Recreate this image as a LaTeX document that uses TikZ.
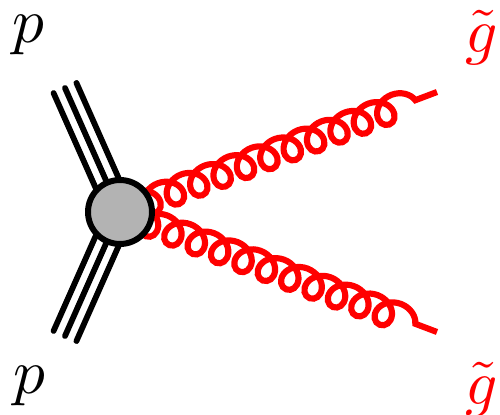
\documentclass[tikz,border=0pt]{standalone}
\usetikzlibrary{decorations.pathmorphing,calc}
\begin{document}
\begin{tikzpicture}[x=0.02cm,y=-0.02cm,
  fermion/.style={line width=3.3pt, line cap=round},
  gluonline/.style={red, line width=3.5pt, decorate,
    decoration={coil, amplitude=0.27cm, segment length=0.5cm, aspect=1.05}},
  blob/.style={circle, draw=black, fill={rgb,255:red,179;green,179;blue,179},
    line width=3.4pt, minimum size=1.28cm, inner sep=0pt},
  lbl/.style={scale=3.6, inner sep=0pt}]
\useasboundingbox (0,0) rectangle (500,415);
\coordinate (v) at (120,212);
\coordinate (p1) at (65,88);
\coordinate (p2) at (65,336);
\coordinate (g1) at (437,92);
\coordinate (g2) at (437,332);
\foreach \s in {-1,0,1} {
  \draw[fermion] ($(p1)!\s*0.25cm!90:(v)$) -- ($(v)!\s*0.25cm!-90:(p1)$);
  \draw[fermion] ($(p2)!\s*0.25cm!90:(v)$) -- ($(v)!\s*0.25cm!-90:(p2)$);
}
\draw[gluonline] (v) -- (g1);
\draw[gluonline] (v) -- (g2);
\node[blob] (b) at (v) {};
\node[lbl] (lp1) at (28.5,35) {$p$};
\node[lbl] (lp2) at (29,386) {$p$};
\node[lbl, red] (lg1) at (482,37.5) {$\tilde g$};
\node[lbl, red] (lg2) at (482,389.5) {$\tilde g$};
\end{tikzpicture}
\end{document}
